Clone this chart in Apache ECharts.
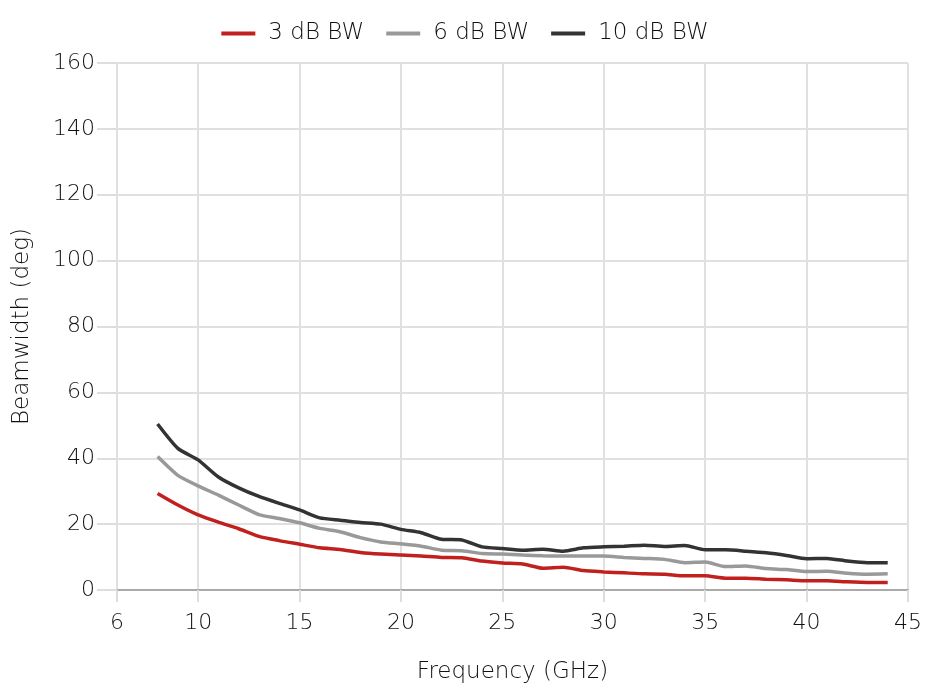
<!DOCTYPE html>
<html>
<head>
<meta charset="utf-8">
<script src="https://cdn.jsdelivr.net/npm/echarts@6/dist/echarts.min.js"></script>
<style>html,body{margin:0;padding:0;background:#fff}#c{width:930px;height:696px}</style>
</head>
<body>
<div id="c"></div>
<script>
var freqs = [8,9,10,11,12,13,14,15,16,17,18,19,20,21,22,23,24,25,26,27,28,29,30,31,32,33,34,35,36,37,38,39,40,41,42,43,44];
var bw3 = [29.3,25.8,22.8,20.6,18.6,16.3,15.0,13.9,12.8,12.3,11.4,10.9,10.6,10.3,9.9,9.8,8.8,8.2,7.9,6.6,6.9,5.9,5.5,5.2,4.9,4.8,4.3,4.3,3.6,3.6,3.3,3.1,2.8,2.8,2.5,2.3,2.3];
var bw6 = [40.5,34.8,31.6,28.8,25.8,22.9,21.7,20.4,18.7,17.7,15.9,14.6,14.0,13.3,12.1,11.9,11.1,10.9,10.6,10.4,10.3,10.3,10.3,9.9,9.6,9.3,8.3,8.5,7.1,7.3,6.5,6.2,5.6,5.7,5.1,4.8,4.9];
var bw10 = [50.4,43.0,39.5,34.3,31.0,28.4,26.3,24.3,21.9,21.2,20.5,20.0,18.4,17.4,15.4,15.2,13.1,12.6,12.1,12.4,11.8,12.8,13.1,13.3,13.6,13.2,13.5,12.2,12.2,11.8,11.3,10.5,9.5,9.6,8.8,8.3,8.3];
var xTicks = [6,10,15,20,25,30,35,40,45];
var seriesNames = ['3 dB BW','6 dB BW','10 dB BW'];
var colors = ['#c0201e','#999999','#333333'];

function pairs(v){ return freqs.map(function(f,i){ return [f, v[i]]; }); }
var font = '"DejaVu Sans", sans-serif';
var txt = '#111111';
var chart = echarts.init(document.getElementById('c'));
chart.setOption({
  animation:false,
  color: colors,
  textStyle:{fontFamily:font},
  legend:{
    top:17, left:'center',
    icon:'rect', itemWidth:34, itemHeight:4, itemGap:22,
    textStyle:{fontSize:23, color:txt, fontFamily:font, fontWeight:200, padding:[0,0,0,8]},
    data: seriesNames
  },
  grid:{left:117, right:22, top:63, bottom:106, containLabel:false},
  xAxis:{
    type:'value', min:6, max:45,
    name:'Frequency (GHz)', nameLocation:'middle', nameGap:71,
    nameTextStyle:{fontSize:23, color:txt, fontFamily:font, fontWeight:200},
    axisLine:{show:true, lineStyle:{color:'#aaaaaa', width:2}},
    axisTick:{show:true, length:12, customValues:xTicks, lineStyle:{color:'#dddddd', width:2}},
    axisLabel:{customValues:xTicks, fontSize:22, color:txt, margin:22, fontFamily:font, fontWeight:200},
    splitLine:{show:true, customValues:xTicks, lineStyle:{color:'#e0e0e0', width:2}}
  },
  yAxis:{
    type:'value', min:0, max:160, interval:20,
    name:'Beamwidth (deg)', nameLocation:'middle', nameGap:83,
    nameTextStyle:{fontSize:23, color:txt, fontFamily:font, fontWeight:200},
    axisLine:{show:false},
    axisTick:{show:true, length:20, lineStyle:{color:'#dddddd', width:2}},
    axisLabel:{fontSize:22, color:txt, margin:22, fontFamily:font, fontWeight:200},
    splitLine:{show:true, lineStyle:{color:'#e0e0e0', width:2}}
  },
  series:[
    {name:seriesNames[0], type:'line', data:pairs(bw3), showSymbol:false, smooth:0.2, lineStyle:{width:3.5, color:colors[0]}},
    {name:seriesNames[1], type:'line', data:pairs(bw6), showSymbol:false, smooth:0.2, lineStyle:{width:3.5, color:colors[1]}},
    {name:seriesNames[2], type:'line', data:pairs(bw10), showSymbol:false, smooth:0.2, lineStyle:{width:3.5, color:colors[2]}}
  ]
});
</script>
</body>
</html>
